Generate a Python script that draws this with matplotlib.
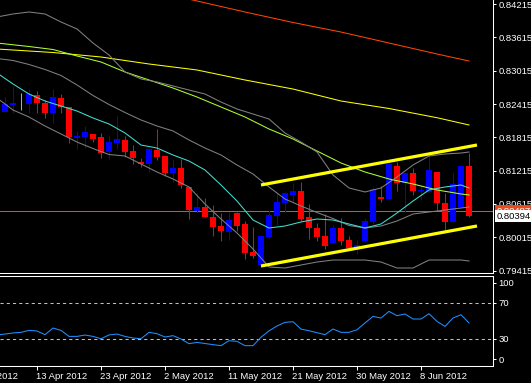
import matplotlib
matplotlib.use('Agg')
import matplotlib.pyplot as plt
from matplotlib.transforms import blended_transform_factory
import numpy as np

plt.rcParams['font.family'] = ['Liberation Sans', 'DejaVu Sans']

# ---------------- data ----------------
opens = [0.82271, 0.82397, 0.82430, 0.82415, 0.82577, 0.82433, 0.82253, 0.82523, 0.82361, 0.81803,
         0.81821, 0.81875, 0.81821, 0.81550, 0.81712, 0.81767, 0.81568, 0.81370, 0.81334, 0.81586,
         0.81478, 0.81172, 0.81262, 0.80920, 0.80487, 0.80559, 0.80379, 0.80217, 0.80109, 0.80451,
         0.80253, 0.79749, 0.79514, 0.80019, 0.80397, 0.80631, 0.80776, 0.80848, 0.80379, 0.80181,
         0.80037, 0.79911, 0.80181, 0.79965, 0.79821, 0.79947, 0.80289, 0.80740, 0.80703, 0.81298,
         0.80992, 0.81172, 0.80848, 0.80830, 0.81190, 0.80631, 0.80289, 0.80559, 0.81298]
highs = [0.82541, 0.82740, 0.82613, 0.82685, 0.82649, 0.82487, 0.82685, 0.82595, 0.82361, 0.81929,
         0.82019, 0.81875, 0.81893, 0.81857, 0.82199, 0.81839, 0.81676, 0.81442, 0.81604, 0.81965,
         0.81478, 0.81424, 0.81424, 0.80920, 0.80812, 0.80721, 0.80595, 0.80451, 0.80469, 0.80469,
         0.80307, 0.80199, 0.80037, 0.80505, 0.80812, 0.80830, 0.80992, 0.81010, 0.80613, 0.80271,
         0.80433, 0.80235, 0.80361, 0.80037, 0.79965, 0.80361, 0.80920, 0.80938, 0.81370, 0.81370,
         0.81172, 0.81262, 0.80938, 0.81550, 0.81190, 0.80812, 0.81172, 0.81316, 0.81532]
lows = [0.82271, 0.82253, 0.82307, 0.82253, 0.82253, 0.82163, 0.82073, 0.82253, 0.81712, 0.81604,
        0.81622, 0.81730, 0.81442, 0.81424, 0.81604, 0.81460, 0.81334, 0.81280, 0.81190, 0.81406,
        0.81118, 0.81010, 0.80902, 0.80343, 0.80451, 0.80379, 0.80037, 0.79947, 0.79965, 0.80127,
        0.79622, 0.79640, 0.79478, 0.80001, 0.80235, 0.80469, 0.80649, 0.80307, 0.79983, 0.79947,
        0.79803, 0.79911, 0.79875, 0.79821, 0.79712, 0.79929, 0.80253, 0.80649, 0.80685, 0.80848,
        0.80469, 0.80776, 0.80685, 0.80830, 0.80505, 0.80145, 0.80289, 0.80559, 0.80379]
closes = [0.82415, 0.82433, 0.82430, 0.82595, 0.82433, 0.82253, 0.82541, 0.82361, 0.81821, 0.81839,
          0.81911, 0.81785, 0.81532, 0.81730, 0.81785, 0.81550, 0.81442, 0.81334, 0.81604, 0.81460,
          0.81172, 0.81262, 0.80956, 0.80505, 0.80559, 0.80379, 0.80199, 0.80127, 0.80325, 0.80217,
          0.79730, 0.79676, 0.80037, 0.80415, 0.80649, 0.80812, 0.80848, 0.80343, 0.80181, 0.80019,
          0.79857, 0.80181, 0.79947, 0.79821, 0.79875, 0.80307, 0.80884, 0.80703, 0.81334, 0.80992,
          0.81172, 0.80848, 0.80866, 0.81226, 0.80631, 0.80289, 0.80974, 0.81298, 0.80394]

# overlay lines (bar index, price)
ma_red_x = [-1, 6, 12, 18, 24, 30, 36, 42, 48, 54, 58]
ma_red_y = [0.85082, 0.84848, 0.84667, 0.84469, 0.84271, 0.84073, 0.83884, 0.83712, 0.83514, 0.83316, 0.83190]
ma_yellow_x = [-1, 6, 12, 18, 24, 30, 36, 42, 48, 54, 58]
ma_yellow_y = [0.83406, 0.83343, 0.83262, 0.83136, 0.83028, 0.82848, 0.82685, 0.82469, 0.82334, 0.82168, 0.82037]
ma_lime_x = [-1, 3, 6, 9, 12, 15, 18, 21, 24, 27, 30, 33, 36, 39, 42, 45, 48, 51, 54, 57, 58]
ma_lime_y = [0.83514, 0.83451, 0.83397, 0.83280, 0.83172, 0.82992, 0.82848, 0.82703, 0.82541, 0.82361,
             0.82181, 0.81965, 0.81785, 0.81568, 0.81352, 0.81190, 0.81064, 0.80974, 0.80866, 0.80794, 0.80776]
line2_x = [-1, 1, 3, 5, 7, 9, 11, 13, 15, 17, 19, 21, 23, 25, 27, 29, 31, 33, 35, 37, 39, 41, 43, 45,
           47, 49, 51, 53, 55, 57, 58]
ma_cyan_y = [0.82974, 0.82776, 0.82595, 0.82469, 0.82379, 0.82289, 0.82163, 0.82055, 0.81893, 0.81676,
             0.81622, 0.81496, 0.81388, 0.81226, 0.80956, 0.80667, 0.80325, 0.80181, 0.80217, 0.80289,
             0.80343, 0.80325, 0.80253, 0.80181, 0.80253, 0.80451, 0.80667, 0.80866, 0.80920, 0.80956, 0.80902]
band_upper_y = [0.83983, 0.84037, 0.84073, 0.84037, 0.83893, 0.83767, 0.83514, 0.83298, 0.82992, 0.82866,
                0.82812, 0.82740, 0.82667, 0.82595, 0.82451, 0.82325, 0.82235, 0.82145, 0.81893, 0.81730,
                0.81550, 0.81136, 0.80902, 0.80830, 0.80902, 0.81100, 0.81316, 0.81478, 0.81514, 0.81532, 0.81550]
band_mid_y = [0.83235, 0.83199, 0.83127, 0.83037, 0.82929, 0.82758, 0.82568, 0.82406, 0.82262, 0.82127,
              0.82019, 0.81929, 0.81767, 0.81622, 0.81496, 0.81316, 0.81154, 0.80920, 0.80703, 0.80577,
              0.80460, 0.80352, 0.80226, 0.80181, 0.80217, 0.80307, 0.80433, 0.80469, 0.80505, 0.80541, 0.80559]
band_lower_y = [0.82523, 0.82307, 0.82181, 0.82019, 0.81875, 0.81730, 0.81613, 0.81505, 0.81478, 0.81334,
                0.81190, 0.81064, 0.80920, 0.80613, 0.80343, 0.80091, 0.79803, 0.79478, 0.79460, 0.79514,
                0.79568, 0.79604, 0.79604, 0.79604, 0.79568, 0.79460, 0.79460, 0.79604, 0.79604, 0.79604, 0.79586]

channel_x = [32, 59]
channel_upper = [0.80956, 0.81676]
channel_lower = [0.79496, 0.80217]
hline_price = 0.80487
last_price = 0.80394

rsi_x = list(range(-1, 59))
rsi = [34.5, 35.5, 36.7, 37.4, 39.6, 38.9, 34.8, 42.2, 39.6, 32.9, 32.9, 34.4, 32.9, 30.3, 34.5, 35.5,
       32.9, 31.1, 30.3, 37.4, 35.9, 32.2, 33.7, 30.0, 24.8, 26.2, 25.0, 23.7, 22.6, 28.1, 27.4, 22.6,
       22.6, 32.0, 39.0, 44.5, 48.5, 49.2, 41.0, 39.2, 37.0, 34.8, 41.1, 37.4, 37.4, 40.3, 47.8, 55.1,
       53.3, 60.7, 55.9, 57.8, 52.2, 52.2, 58.1, 49.6, 44.0, 53.3, 57.0, 47.8]

price_ticks = [0.84215, 0.83615, 0.83015, 0.82415, 0.81815, 0.81215, 0.80615, 0.80015, 0.79415]
date_pos = [-4, 4, 12, 20, 28, 36, 44, 52]
date_labels = ['4 Apr 2012', '13 Apr 2012', '23 Apr 2012', '2 May 2012', '11 May 2012',
               '21 May 2012', '30 May 2012', '8 Jun 2012']

# ---------------- figure ----------------
W, H = 531, 383
fig = plt.figure(figsize=(W / 100, H / 100), dpi=100, facecolor='black')
ax = fig.add_axes([0, (H - 273) / H, 493 / W, 273 / H], facecolor='black')
axr = fig.add_axes([0, (H - 366) / H, 493 / W, 90 / H], facecolor='black')

FS = 6.8
lw1 = 0.75

# candles
idx = np.arange(len(opens))
o = np.array(opens); c = np.array(closes); h = np.array(highs); l = np.array(lows)
cols = []
for oo, cc in zip(o, c):
    if abs(oo - cc) < 1e-7:
        cols.append('#40E0A0')
    elif cc > oo:
        cols.append('#0000FF')
    else:
        cols.append('#FF0000')
ax.vlines(idx, l, h, colors=cols, lw=lw1, zorder=2)
bottoms = np.minimum(o, c)
heights = np.maximum(np.abs(c - o), 0.00004)
ax.bar(idx, heights, bottom=bottoms, width=0.72, color=cols, linewidth=0, zorder=2)

# overlays
ax.axhline(hline_price, color='#E84A20', lw=lw1, zorder=1.5)
ax.plot(ma_red_x, ma_red_y, color='#FF4500', lw=lw1, zorder=3)
ax.plot(ma_yellow_x, ma_yellow_y, color='#FFFF00', lw=lw1, zorder=3)
ax.plot(ma_lime_x, ma_lime_y, color='#ADFF2F', lw=lw1, zorder=3)
ax.plot(line2_x, band_upper_y, color='#808080', lw=lw1, zorder=3)
ax.plot(line2_x, band_mid_y, color='#808080', lw=lw1, zorder=3)
ax.plot(line2_x, band_lower_y, color='#808080', lw=lw1, zorder=3)
ax.plot(line2_x, ma_cyan_y, color='#40E0D0', lw=lw1, zorder=3.2)
ax.plot(channel_x, channel_upper, color='#FFFF00', lw=2.3, zorder=4, solid_capstyle='butt')
ax.plot(channel_x, channel_lower, color='#FFFF00', lw=2.3, zorder=4, solid_capstyle='butt')

ax.set_xlim(-0.625, 61)
ax.set_ylim(0.79370, 0.84289)

for a in (ax, axr):
    a.spines['left'].set_visible(False)
    for s in ('right', 'bottom', 'top'):
        a.spines[s].set_color('white')
        a.spines[s].set_linewidth(lw1)
ax.spines['top'].set_visible(False)

ax.yaxis.tick_right()
ax.set_yticks(price_ticks)
ax.set_yticklabels(['%.5f' % v for v in price_ticks])
ax.tick_params(axis='y', colors='white', length=2.5, width=lw1, pad=1.2, labelsize=FS)
ax.set_xticks([])

# price labels on the axis
tr = blended_transform_factory(ax.transAxes, ax.transData)
ax.text(1 + 4 / 493, hline_price, '%.5f' % hline_price, transform=tr, ha='left', va='center',
        fontsize=FS, color='white', clip_on=False, zorder=10,
        bbox=dict(boxstyle='square,pad=0.18', fc='#E84A20', ec='none'))
ax.text(1 + 4 / 493, last_price, '%.5f' % last_price, transform=tr, ha='left', va='center',
        fontsize=FS, color='black', clip_on=False, zorder=11,
        bbox=dict(boxstyle='square,pad=0.18', fc='white', ec='none'))

# RSI panel
axr.plot(rsi_x, rsi, color='#1E90FF', lw=lw1, zorder=3)
for lev in (70, 30):
    axr.axhline(lev, color='#C0C0C0', lw=lw1, ls=(0, (3, 3)), zorder=2)
axr.set_xlim(-0.625, 61)
axr.set_ylim(0, 100)
axr.yaxis.tick_right()
axr.set_yticks([92.5, 70, 30, 7.5])
axr.set_yticklabels(['100', '70', '30', '0'])
axr.tick_params(axis='y', colors='white', length=2.5, width=lw1, pad=1.2, labelsize=FS)
axr.set_xticks([p for p in date_pos if p >= 0])
axr.set_xticklabels([])
axr.tick_params(axis='x', colors='white', length=3, width=lw1, direction='out')

trx = blended_transform_factory(axr.transData, axr.transAxes)
for p, lab in zip(date_pos, date_labels):
    axr.text(p - 0.1, -0.115, lab, transform=trx, ha='left', va='center', fontsize=FS,
             color='white', clip_on=False)

fig.savefig('out.png', dpi=100, facecolor='black')
